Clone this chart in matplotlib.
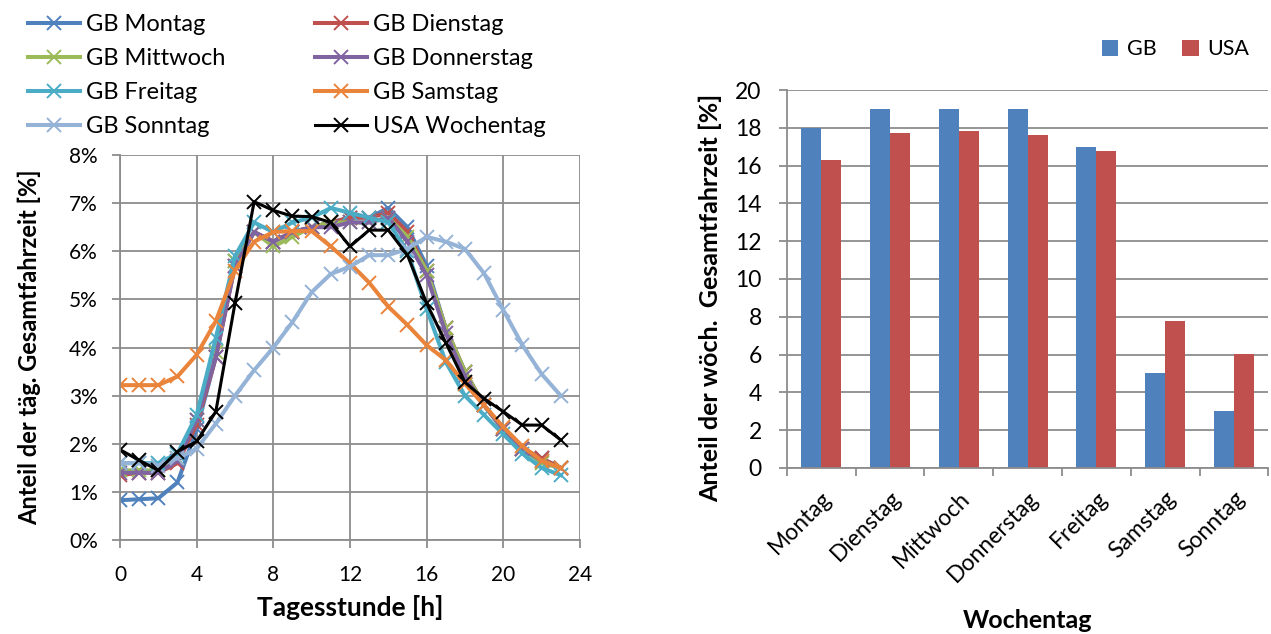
import numpy as np
import matplotlib
matplotlib.use("Agg")
import matplotlib.pyplot as plt
from matplotlib.ticker import FuncFormatter

plt.rcParams['font.family'] = ['Lato', 'DejaVu Sans']

# Anteil der taeglichen Gesamtfahrzeit je Tagesstunde [%]
hours = np.arange(24)
gb_montag = [0.83, 0.85, 0.87, 1.2, 2.3, 3.8, 5.8, 6.4, 6.2, 6.4, 6.5, 6.6,
             6.7, 6.7, 6.9, 6.5, 5.7, 4.4, 3.5, 2.8, 2.3, 1.9, 1.7, 1.5]
gb_dienstag = [1.35, 1.4, 1.4, 1.6, 2.4, 3.8, 5.7, 6.4, 6.2, 6.4, 6.5, 6.6,
               6.7, 6.7, 6.8, 6.4, 5.6, 4.4, 3.5, 2.8, 2.3, 1.9, 1.7, 1.5]
gb_mittwoch = [1.45, 1.45, 1.45, 1.7, 2.5, 3.9, 5.8, 6.4, 6.1, 6.3, 6.5, 6.6,
               6.6, 6.6, 6.7, 6.3, 5.6, 4.4, 3.5, 2.8, 2.3, 1.9, 1.6, 1.5]
gb_donnerstag = [1.4, 1.4, 1.4, 1.65, 2.5, 3.8, 5.7, 6.4, 6.2, 6.4, 6.5, 6.5,
                 6.6, 6.6, 6.7, 6.2, 5.5, 4.3, 3.4, 2.8, 2.3, 1.9, 1.65, 1.5]
gb_freitag = [1.6, 1.6, 1.6, 1.8, 2.6, 4.2, 5.9, 6.6, 6.4, 6.6, 6.7, 6.9,
              6.8, 6.7, 6.6, 6.0, 4.8, 3.7, 3.0, 2.6, 2.2, 1.8, 1.5, 1.35]
gb_samstag = [3.22, 3.22, 3.22, 3.4, 3.85, 4.55, 5.6, 6.2, 6.4, 6.42, 6.42, 6.1,
              5.75, 5.35, 4.85, 4.47, 4.05, 3.74, 3.25, 2.8, 2.35, 1.95, 1.65, 1.5]
gb_sonntag = [1.6, 1.6, 1.55, 1.7, 1.9, 2.42, 3.0, 3.53, 4.0, 4.53, 5.15, 5.53,
              5.68, 5.92, 5.92, 6.05, 6.3, 6.2, 6.05, 5.54, 4.78, 4.05, 3.45, 3.0]
usa_wochentag = [1.88, 1.66, 1.45, 1.84, 2.05, 2.67, 4.92, 7.03, 6.85, 6.73, 6.72, 6.6,
                 6.1, 6.44, 6.44, 5.92, 4.92, 4.1, 3.28, 2.94, 2.67, 2.39, 2.39, 2.08]

line_labels = ["GB Montag", "GB Dienstag", "GB Mittwoch", "GB Donnerstag",
               "GB Freitag", "GB Samstag", "GB Sonntag", "USA Wochentag"]
line_series = [gb_montag, gb_dienstag, gb_mittwoch, gb_donnerstag,
               gb_freitag, gb_samstag, gb_sonntag, usa_wochentag]
line_colors = ["#4F81BD", "#C0504D", "#9BBB59", "#8064A2",
               "#4BACC6", "#E9843A", "#95B3D7", "#000000"]

# Anteil der woechentlichen Gesamtfahrzeit je Wochentag [%]
wochentage = ["Montag", "Dienstag", "Mittwoch", "Donnerstag", "Freitag", "Samstag", "Sonntag"]
gb_woche = [18, 19, 19, 19, 17, 5, 3]
usa_woche = [16.3, 17.7, 17.85, 17.6, 16.75, 7.75, 6.05]

grid_c = "#8C8C8C"

fig = plt.figure(figsize=(12.71, 6.34), dpi=100)

# --- linkes Diagramm ---
ax1 = fig.add_axes([0.0944, 0.148, 0.3619, 0.6075])
handles = []
for y, lab, c in zip(line_series, line_labels, line_colors):
    lw = 2.2 if c == "#000000" else 2.9
    h, = ax1.plot(hours, y, color=c, lw=lw, marker="x", markersize=10,
                  markeredgewidth=1.4, label=lab)
    handles.append(h)
ax1.set_xlim(0, 24)
ax1.set_ylim(0, 8)
ax1.set_xticks(range(0, 25, 4))
ax1.set_yticks(range(0, 9))
ax1.yaxis.set_major_formatter(FuncFormatter(lambda v, p: f"{v:.0f}%"))
ax1.grid(True, color=grid_c, lw=1.3)
ax1.set_axisbelow(True)
for s in ["top", "right"]:
    ax1.spines[s].set_visible(False)
for s in ["left", "bottom"]:
    ax1.spines[s].set_color(grid_c)
    ax1.spines[s].set_linewidth(1.3)
ax1.tick_params(axis="both", colors=grid_c, length=6, width=1.3, labelsize=15,
                labelcolor="black")
ax1.tick_params(axis="x", pad=12)
ax1.tick_params(axis="y", pad=10)
ax1.set_xlabel("Tagesstunde [h]", fontsize=19, fontweight="bold", labelpad=7)
ax1.set_ylabel("Anteil der täg. Gesamtfahrzeit [%]", fontsize=17, fontweight="bold", labelpad=20)

# Legende zeilenweise wie im Original
order = [0, 2, 4, 6, 1, 3, 5, 7]
fig.legend([handles[i] for i in order], [line_labels[i] for i in order],
           loc="upper left", bbox_to_anchor=(28 / 1271, 1 - 14 / 634), ncol=2,
           frameon=False, fontsize=17, handlelength=2.2, handletextpad=0.25,
           columnspacing=3.8, labelspacing=0.55, borderpad=0, borderaxespad=0)

# --- rechtes Diagramm ---
ax2 = fig.add_axes([0.619, 0.262, 0.379, 0.596])
x = np.arange(len(wochentage))
w = 0.29
ax2.bar(x - w / 2, gb_woche, width=w, color="#4F81BD", label="GB")
ax2.bar(x + w / 2, usa_woche, width=w, color="#C0504D", label="USA")
ax2.set_xlim(-0.5, len(wochentage) - 0.5)
ax2.set_ylim(0, 20)
ax2.set_yticks(range(0, 21, 2))
ax2.set_xticks(x)
ax2.set_xticklabels(wochentage, rotation=45, ha="right", rotation_mode="anchor")
ax2.set_xticks(np.arange(-0.5, len(wochentage)), minor=True)
ax2.grid(True, axis="y", color=grid_c, lw=1.3)
ax2.set_axisbelow(True)
for s in ["top", "right"]:
    ax2.spines[s].set_visible(False)
for s in ["left", "bottom"]:
    ax2.spines[s].set_color(grid_c)
    ax2.spines[s].set_linewidth(1.3)
ax2.tick_params(axis="x", which="major", length=0, labelsize=16.5, pad=14)
ax2.tick_params(axis="x", which="minor", length=6, width=1.3, color=grid_c)
ax2.tick_params(axis="y", length=6, width=1.3, color=grid_c, labelsize=16.5, pad=12)
ax2.set_xlabel("Wochentag", fontsize=18, fontweight="bold", labelpad=17)
ax2.set_ylabel("Anteil der wöch.  Gesamtfahrzeit [%]", fontsize=18, fontweight="bold")
ax2.yaxis.set_label_coords(-0.135, 0.45)
ax2.legend(loc="lower right", bbox_to_anchor=(1.0, 1.03), ncol=2, frameon=False,
           fontsize=15.5, handlelength=0.75, handleheight=0.75, handletextpad=0.4,
           columnspacing=1.2)

fig.savefig("out.png", dpi=100)
